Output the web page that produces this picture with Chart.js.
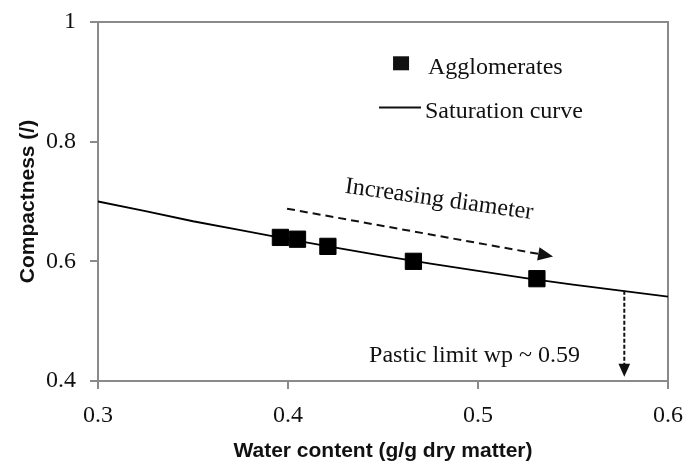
<!DOCTYPE html>
<html lang="en">
<head>
  <meta charset="UTF-8">
  <title>Compactness vs water content</title>
  <script src="https://cdn.jsdelivr.net/npm/chart.js"></script>
  <style>
    html, body { margin: 0; padding: 0; background: #fff; }
  </style>
</head>
<body>
  <canvas id="compactChart" width="686" height="465"></canvas>
  <script>
    // agglomerates
    const aggWater = [0.396, 0.405, 0.421, 0.466, 0.531];
    const aggCompact = [0.640, 0.637, 0.625, 0.600, 0.571];

    // saturation curve
    const satWater = [0.30, 0.325, 0.35, 0.375, 0.40, 0.425, 0.45, 0.475, 0.50, 0.525, 0.55, 0.575, 0.60];
    const satCompact = [0.700, 0.684, 0.667, 0.652, 0.637, 0.623, 0.609, 0.596, 0.584, 0.572, 0.561, 0.551, 0.541];

    const xTicks = [0.3, 0.4, 0.5, 0.6];
    const yTicks = [0.4, 0.6, 0.8, 1];

    const serif = '"Liberation Serif", "Times New Roman", serif';
    const axisGray = '#8a8a8a';

    function toPoints(xs, ys) {
      return xs.map((x, i) => ({ x: x, y: ys[i] }));
    }

    function arrow(ctx, x1, y1, x2, y2, dash, width, head) {
      ctx.save();
      const ang = Math.atan2(y2 - y1, x2 - x1);
      ctx.strokeStyle = '#111';
      ctx.fillStyle = '#111';
      ctx.lineWidth = width;
      ctx.setLineDash(dash);
      ctx.beginPath();
      ctx.moveTo(x1, y1);
      ctx.lineTo(x2 - Math.cos(ang) * head * 0.8, y2 - Math.sin(ang) * head * 0.8);
      ctx.stroke();
      ctx.setLineDash([]);
      ctx.beginPath();
      ctx.moveTo(x2, y2);
      ctx.lineTo(x2 - head * Math.cos(ang) + head * 0.45 * Math.sin(ang), y2 - head * Math.sin(ang) - head * 0.45 * Math.cos(ang));
      ctx.lineTo(x2 - head * Math.cos(ang) - head * 0.45 * Math.sin(ang), y2 - head * Math.sin(ang) + head * 0.45 * Math.cos(ang));
      ctx.closePath();
      ctx.fill();
      ctx.restore();
    }

    const extras = {
      id: 'extras',
      beforeDatasetsDraw(chart) {
        const { ctx, chartArea: a } = chart;
        // frame on top and right
        ctx.save();
        ctx.strokeStyle = axisGray;
        ctx.lineWidth = 2;
        ctx.beginPath();
        ctx.moveTo(a.left, a.top);
        ctx.lineTo(a.right, a.top);
        ctx.lineTo(a.right, a.bottom);
        ctx.stroke();
        ctx.restore();
      },
      afterDatasetsDraw(chart) {
        const { ctx } = chart;
        const xs = chart.scales.x, ys = chart.scales.y;
        const px = v => xs.getPixelForValue(v);
        const py = v => ys.getPixelForValue(v);

        // increasing diameter arrow
        arrow(ctx, px(0.3995), py(0.688), px(0.5395), py(0.608), [8, 5], 2, 15);
        // plastic limit arrow
        arrow(ctx, px(0.577), py(0.551), px(0.577), py(0.407), [4, 2], 2, 13);

        ctx.save();
        ctx.fillStyle = '#111';
        ctx.font = '24px ' + serif;
        ctx.textBaseline = 'middle';
        ctx.textAlign = 'center';
        ctx.fillText('Pastic limit wp ~ 0.59', px(0.4982), py(0.4427));

        ctx.save();
        ctx.translate(px(0.4795), py(0.703));
        ctx.rotate(8 * Math.PI / 180);
        ctx.fillText('Increasing diameter', 0, 0);
        ctx.restore();

        // legend
        ctx.textAlign = 'left';
        ctx.textBaseline = 'alphabetic';
        const mx = px(0.4595), my = py(0.931);
        ctx.fillRect(mx - 8, my - 7, 16, 14);
        ctx.fillText('Agglomerates', px(0.4737), py(0.9125));
        ctx.strokeStyle = '#111';
        ctx.lineWidth = 2;
        ctx.beginPath();
        ctx.moveTo(px(0.4479), py(0.857));
        ctx.lineTo(px(0.470), py(0.857));
        ctx.stroke();
        ctx.fillText('Saturation curve', px(0.4721), py(0.839));
        ctx.restore();
      }
    };

    const ctx = document.getElementById('compactChart').getContext('2d');
    const compactChart = new Chart(ctx, {
      type: 'scatter',
      data: {
        datasets: [
          {
            label: 'Agglomerates',
            data: toPoints(aggWater, aggCompact),
            pointStyle: 'rect',
            pointRadius: 11.5,
            pointHoverRadius: 11.5,
            backgroundColor: '#000',
            borderColor: '#000',
            borderWidth: 1
          },
          {
            label: 'Saturation curve',
            data: toPoints(satWater, satCompact),
            showLine: true,
            pointRadius: 0,
            borderColor: '#000',
            borderWidth: 1.8,
            tension: 0
          }
        ]
      },
      options: {
        responsive: false,
        animation: false,
        layout: { padding: { top: 22, right: 18, bottom: 0, left: 0 } },
        plugins: {
          legend: { display: false },
          tooltip: { enabled: false }
        },
        scales: {
          x: {
            type: 'linear',
            min: 0.3,
            max: 0.6,
            afterFit: s => { s.height = 84; s.paddingLeft = 0; s.paddingRight = 0; },
            afterBuildTicks: s => { s.ticks = xTicks.map(v => ({ value: v })); },
            ticks: {
              callback: v => String(+v.toFixed(1)),
              color: '#111',
              font: { family: serif, size: 24 },
              padding: 12
            },
            grid: { drawOnChartArea: false, color: axisGray, tickLength: 8, lineWidth: 2 },
            border: { color: axisGray, width: 2 },
            title: {
              display: true,
              text: 'Water content (g/g dry matter)',
              color: '#111',
              font: { family: '"Liberation Sans", Arial, sans-serif', size: 21, weight: 'bold' },
              padding: { top: 0, bottom: 1 }
            }
          },
          y: {
            type: 'linear',
            min: 0.4,
            max: 1,
            afterFit: s => { s.width = 98; s.paddingTop = 0; s.paddingBottom = 0; },
            afterBuildTicks: s => { s.ticks = yTicks.map(v => ({ value: v })); },
            ticks: {
              callback: v => String(+v.toFixed(1)),
              color: '#111',
              font: { family: serif, size: 24 },
              padding: 14
            },
            grid: { drawOnChartArea: false, color: axisGray, tickLength: 8, lineWidth: 2 },
            border: { color: axisGray, width: 2 },
            title: {
              display: true,
              text: 'Compactness (/)',
              color: '#111',
              font: { family: '"Liberation Sans", Arial, sans-serif', size: 21, weight: 'bold' },
              padding: { top: 16, bottom: 0 }
            }
          }
        }
      },
      plugins: [extras]
    });
  </script>
</body>
</html>
